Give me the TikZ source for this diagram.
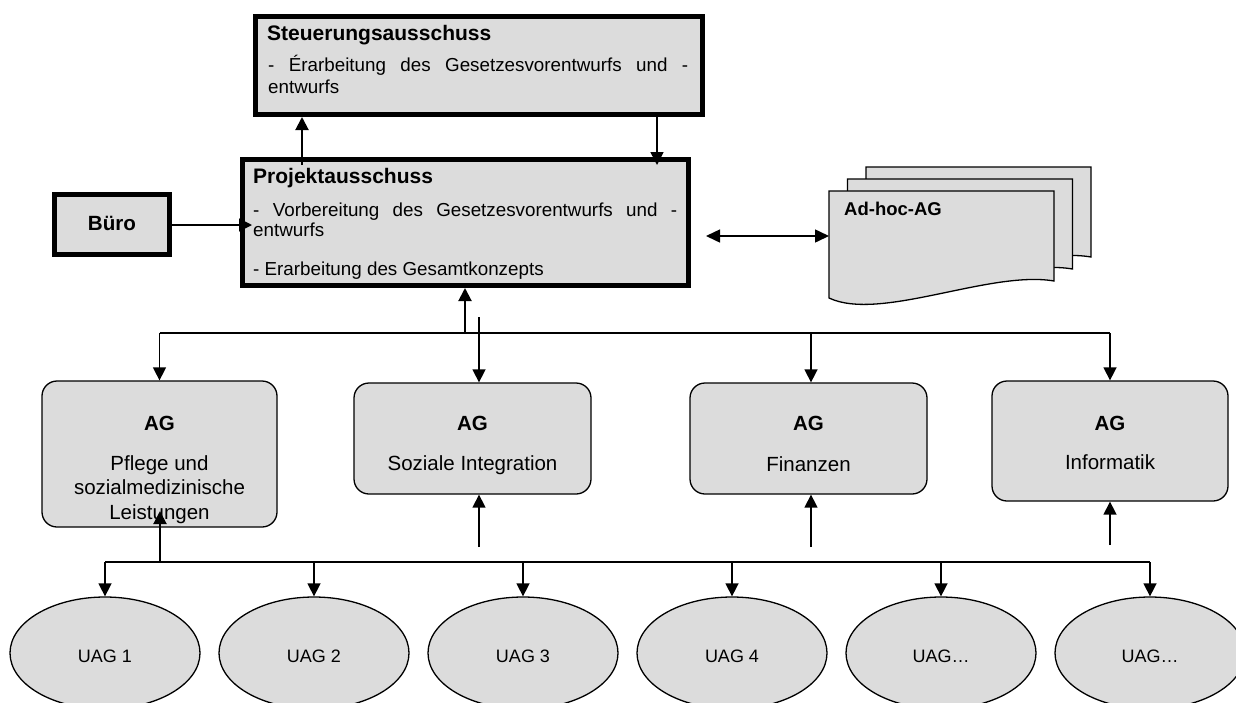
\documentclass[tikz,border=0pt]{standalone}
\usepackage{fontspec}
\setmainfont{Liberation Sans}
\usetikzlibrary{arrows.meta,shapes.geometric,calc}
\definecolor{boxgray}{RGB}{220,220,220}
\newcommand\adhocshape[2]{%
  \filldraw[fill=boxgray, line width=1.3pt, shift={(#1,#2)}]
    (829,191) -- (1054,191) -- (1054,281)
    .. controls (990,270) and (880,322) .. (829,298) -- cycle;}
\begin{document}
\begin{tikzpicture}[x=1pt,y=-1pt,
  thickbox/.style={draw, line width=5pt, fill=boxgray, rectangle, inner sep=0pt},
  agbox/.style={draw, line width=1.3pt, fill=boxgray, rounded corners=15pt, rectangle, inner sep=0pt},
  uag/.style={draw, line width=1.3pt, fill=boxgray, ellipse, inner sep=0pt, minimum width=190pt, minimum height=112pt},
  conn/.style={line width=1.5pt, -{Triangle[length=13pt,width=13pt]}},
  connthick/.style={line width=2pt, -{Triangle[length=13pt,width=13pt]}},
  dconn/.style={line width=1.5pt, {Triangle[length=14pt,width=13pt]}-{Triangle[length=14pt,width=13pt]}},
  busline/.style={line width=1.8pt},
  ttl/.style={inner sep=0pt, anchor=base west, font=\fontsize{21}{24}\selectfont\bfseries},
  body/.style={inner sep=0pt, anchor=base west, font=\fontsize{18.8}{22}\selectfont},
  agt/.style={inner sep=0pt, anchor=base, font=\fontsize{20.5}{24}\selectfont},
  uagt/.style={inner sep=0pt, anchor=base, font=\fontsize{18}{22}\selectfont}
]
\useasboundingbox (0,0) rectangle (1236,702);
\clip (0,0) rectangle (1236,702);
\fill[white] (0,0) rectangle (1236,702);

% --- Steuerungsausschuss ---
\node[thickbox, minimum width=447pt, minimum height=98pt] (steu) at (479,65.5) {};
\node[ttl] (steuT) at (267,40) {Steuerungsausschuss};
\node[body] (steuL1) at (268,71) {\makebox[420pt][s]{- Érarbeitung des Gesetzesvorentwurfs und -}};
\node[body] (steuL2) at (268,93) {entwurfs};

% --- Projektausschuss ---
\node[thickbox, minimum width=446pt, minimum height=126pt] (proj) at (465.5,222.5) {};
\node[ttl] (projT) at (253,183) {Projektausschuss};
\node[body] (projL1) at (253,216) {\makebox[424pt][s]{- Vorbereitung des Gesetzesvorentwurfs und -}};
\node[body] (projL2) at (253,236) {entwurfs};
\node[body] (projL3) at (253,275) {- Erarbeitung des Gesamtkonzepts};

% --- Buero ---
\node[thickbox, minimum width=115pt, minimum height=60pt] (buero) at (112,224.5) {};
\node[inner sep=0pt, anchor=base, font=\fontsize{20.6}{24}\selectfont\bfseries] (bueroT) at (112,230) {Büro};

% --- Ad-hoc-AG documents ---
\adhocshape{37}{-24}
\adhocshape{18.5}{-12}
\adhocshape{0}{0}
\coordinate (adhoc) at (829,236);
\node[inner sep=0pt, anchor=base west, font=\fontsize{18.5}{22}\selectfont\bfseries] (adhocT) at (844,215) {Ad-hoc-AG};

% --- connectors top ---
\coordinate (pA) at (302,165);
\draw[connthick] (pA) -- (pA |- steu.south);
\coordinate (pB) at (657,165);
\draw[conn] (pB |- steu.south) -- (pB);
\coordinate (pC) at (252,225);
\draw[conn] (buero.east |- pC) -- (pC);
\coordinate (pD) at (706,236);
\draw[dconn] (pD) -- (adhoc);

% --- AG boxes ---
\node[agbox, minimum width=235pt, minimum height=146pt] (ag1) at (159.5,454) {};
\node[agbox, minimum width=237pt, minimum height=111pt] (ag2) at (472.5,438.5) {};
\node[agbox, minimum width=237pt, minimum height=111pt] (ag3) at (808.5,438.5) {};
\node[agbox, minimum width=236pt, minimum height=120pt] (ag4) at (1110,441) {};

\node[agt, font=\fontsize{20.5}{24}\selectfont\bfseries] (ag1a) at (159.5,430) {AG};
\node[agt] (ag1b) at (159.5,470) {Pflege und};
\node[agt] (ag1c) at (159.5,494.5) {sozialmedizinische};
\node[agt] (ag1d) at (159.5,519) {Leistungen};
\node[agt, font=\fontsize{20.5}{24}\selectfont\bfseries] (ag2a) at (472.5,430) {AG};
\node[agt] (ag2b) at (472.5,470) {Soziale Integration};
\node[agt, font=\fontsize{20.5}{24}\selectfont\bfseries] (ag3a) at (808.5,430) {AG};
\node[agt] (ag3b) at (808.5,471) {Finanzen};
\node[agt, font=\fontsize{20.5}{24}\selectfont\bfseries] (ag4a) at (1110,430) {AG};
\node[agt] (ag4b) at (1110,469) {Informatik};

% --- bus 1 ---
\coordinate (b1) at (0,333);
\draw[busline] (ag1.north |- b1) -- (ag4.north |- b1);
\coordinate (u0) at (465,333);
\draw[connthick] (u0) -- (u0 |- proj.south);
\draw[conn] (ag1.north |- b1) -- (ag1.north);
\coordinate (d2) at (479,317);
\draw[conn] (d2) -- (d2 |- ag2.north);
\coordinate (d3) at (811,333);
\draw[conn] (d3) -- (d3 |- ag3.north);
\draw[conn] (ag4.north |- b1) -- (ag4.north);

% --- UAG ellipses ---
\node[uag] (u1) at (105,653) {};
\node[uag] (u2) at (314,653) {};
\node[uag] (u3) at (523,653) {};
\node[uag] (u4) at (732,653) {};
\node[uag] (u5) at (941,653) {};
\node[uag] (u6) at (1150,653) {};
\node[uagt] (u1t) at (105,662) {UAG 1};
\node[uagt] (u2t) at (314,662) {UAG 2};
\node[uagt] (u3t) at (523,662) {UAG 3};
\node[uagt] (u4t) at (732,662) {UAG 4};
\node[uagt] (u5t) at (941,662) {UAG…};
\node[uagt] (u6t) at (1150,662) {UAG…};

% --- bus 2 ---
\coordinate (b2) at (0,562);
\draw[busline] (u1.north |- b2) -- (u6.north |- b2);
\foreach \u in {u1,u2,u3,u4,u5,u6}
  \draw[conn] (\u.north |- b2) -- (\u.north);
\coordinate (v1) at (160,562);
\coordinate (v1t) at (160,511);
\draw[connthick] (v1) -- (v1t);
\coordinate (v2) at (479,547);
\draw[conn] (v2) -- (v2 |- ag2.south);
\coordinate (v3) at (811,547);
\draw[conn] (v3) -- (v3 |- ag3.south);
\coordinate (v4) at (1110,545);
\draw[conn] (v4) -- (v4 |- ag4.south);
\end{tikzpicture}
\end{document}
